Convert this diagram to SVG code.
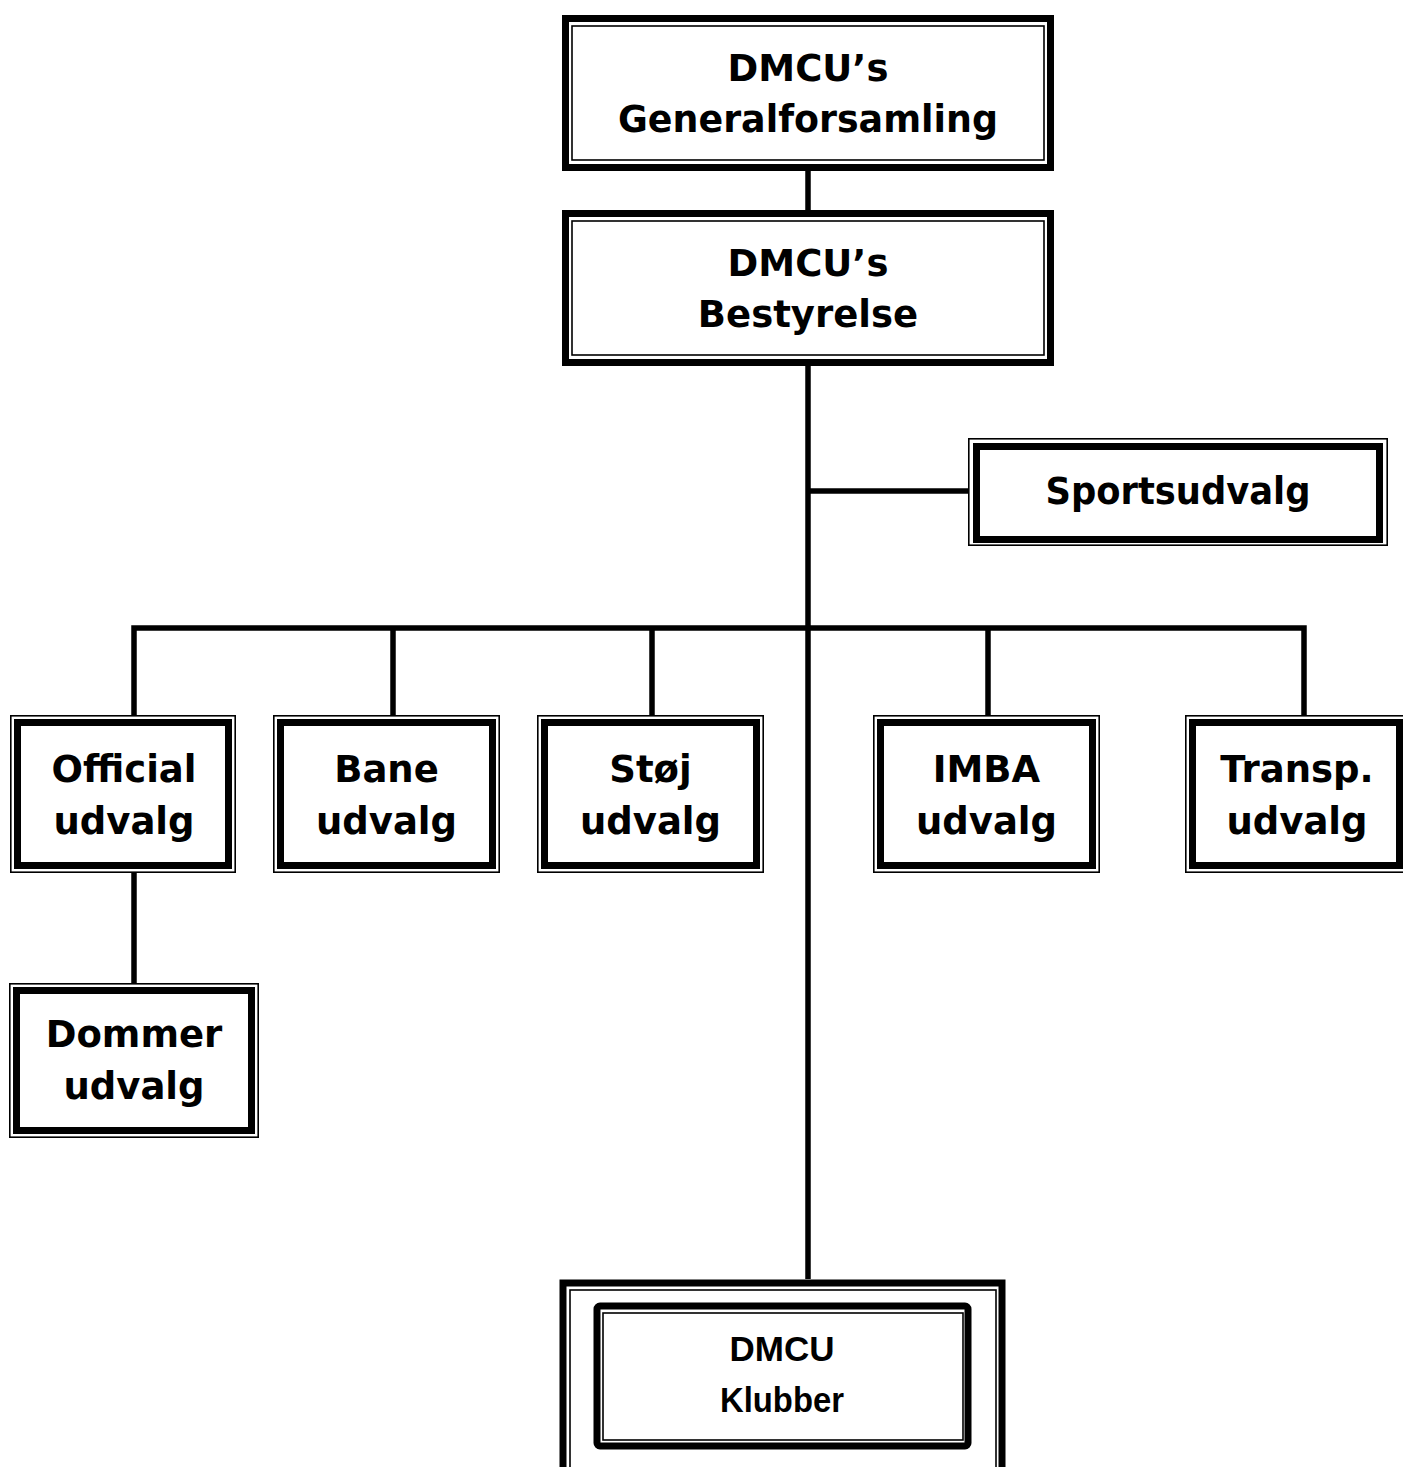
<svg xmlns="http://www.w3.org/2000/svg" width="1403" height="1467" viewBox="0 0 1403 1467">
<style>
.bg{fill:#fff}
.thick{fill:none;stroke:#000;stroke-width:7}
.thin{fill:none;stroke:#000;stroke-width:1.6}
.conn{fill:none;stroke:#000;stroke-width:5.5;stroke-linejoin:miter;stroke-linecap:butt}
.t{font-family:"DejaVu Sans","Liberation Sans",sans-serif;font-weight:bold;font-size:37px;fill:#000;text-anchor:middle}
.k{font-family:"Liberation Sans",Arial,sans-serif;font-weight:bold;font-size:35px;fill:#000;text-anchor:middle}
</style>
<rect x="0" y="0" width="1403" height="1467" fill="#fff"/>
<g id="connectors">
<line class="conn" x1="808" y1="171" x2="808" y2="210"/>
<line class="conn" x1="808" y1="366" x2="808" y2="1280"/>
<line class="conn" x1="808" y1="491" x2="973" y2="491"/>
<path class="conn" d="M134,716 V628 H1304 V716"/>
<line class="conn" x1="393" y1="628" x2="393" y2="716"/>
<line class="conn" x1="652" y1="628" x2="652" y2="716"/>
<line class="conn" x1="988" y1="628" x2="988" y2="716"/>
<line class="conn" x1="134" y1="873" x2="134" y2="983"/>
</g>
<g id="node-generalforsamling">
<rect class="bg" x="562" y="15" width="492" height="156"/>
<rect class="thick" x="565.5" y="18.5" width="485" height="149"/>
<rect class="thin" x="572" y="26" width="472" height="134"/>
<text class="t" x="808" y="81">DMCU’s</text>
<text class="t" x="808" y="132" textLength="380" lengthAdjust="spacingAndGlyphs">Generalforsamling</text>
</g>
<g id="node-bestyrelse">
<rect class="bg" x="562" y="210" width="492" height="156"/>
<rect class="thick" x="565.5" y="213.5" width="485" height="149"/>
<rect class="thin" x="572" y="221" width="472" height="134"/>
<text class="t" x="808" y="276">DMCU’s</text>
<text class="t" x="808" y="327">Bestyrelse</text>
</g>
<g id="node-sportsudvalg">
<rect class="bg" x="968" y="438" width="420" height="108"/>
<rect class="thin" x="968.8" y="438.8" width="418.4" height="106.4"/>
<rect class="thick" x="976.5" y="446.5" width="403" height="93"/>
<text class="t" x="1178" y="504" textLength="265" lengthAdjust="spacingAndGlyphs">Sportsudvalg</text>
</g>
<g id="node-official">
<rect class="bg" x="10" y="715" width="226" height="158"/>
<rect class="thin" x="10.8" y="715.8" width="224.4" height="156.4"/>
<rect class="thick" x="17.5" y="722.5" width="211" height="143"/>
<text class="t" x="124" y="782">Official</text>
<text class="t" x="124" y="834">udvalg</text>
</g>
<g id="node-bane">
<rect class="bg" x="273" y="715" width="227" height="158"/>
<rect class="thin" x="273.8" y="715.8" width="225.4" height="156.4"/>
<rect class="thick" x="280.5" y="722.5" width="212" height="143"/>
<text class="t" x="386.5" y="782">Bane</text>
<text class="t" x="386.5" y="834">udvalg</text>
</g>
<g id="node-stoj">
<rect class="bg" x="537" y="715" width="227" height="158"/>
<rect class="thin" x="537.8" y="715.8" width="225.4" height="156.4"/>
<rect class="thick" x="544.5" y="722.5" width="212" height="143"/>
<text class="t" x="650.5" y="782">Støj</text>
<text class="t" x="650.5" y="834">udvalg</text>
</g>
<g id="node-imba">
<rect class="bg" x="873" y="715" width="227" height="158"/>
<rect class="thin" x="873.8" y="715.8" width="225.4" height="156.4"/>
<rect class="thick" x="880.5" y="722.5" width="212" height="143"/>
<text class="t" x="986.5" y="782">IMBA</text>
<text class="t" x="986.5" y="834">udvalg</text>
</g>
<g id="node-transp">
<rect class="bg" x="1185" y="715" width="222" height="158"/>
<rect class="thin" x="1185.8" y="715.8" width="220.4" height="156.4"/>
<rect class="thick" x="1192.5" y="722.5" width="207" height="143"/>
<text class="t" x="1297" y="782">Transp.</text>
<text class="t" x="1297" y="834">udvalg</text>
</g>
<g id="node-dommer">
<rect class="bg" x="9" y="983" width="250" height="155"/>
<rect class="thin" x="9.8" y="983.8" width="248.4" height="153.4"/>
<rect class="thick" x="16.5" y="990.5" width="235" height="140"/>
<text class="t" x="134" y="1047">Dommer</text>
<text class="t" x="134" y="1099">udvalg</text>
</g>
<g id="node-klubber">
<rect class="bg" x="559" y="1279" width="447" height="200"/>
<rect class="thick" x="563" y="1283" width="439" height="200"/>
<rect class="thin" x="570" y="1290" width="426" height="200"/>
<rect class="thick" x="597" y="1306" width="371" height="140" rx="3"/>
<rect class="thin" x="603" y="1313" width="360" height="127"/>
<text class="k" x="782" y="1361">DMCU</text>
<text class="k" x="782" y="1412" textLength="124" lengthAdjust="spacingAndGlyphs">Klubber</text>
</g>
</svg>
